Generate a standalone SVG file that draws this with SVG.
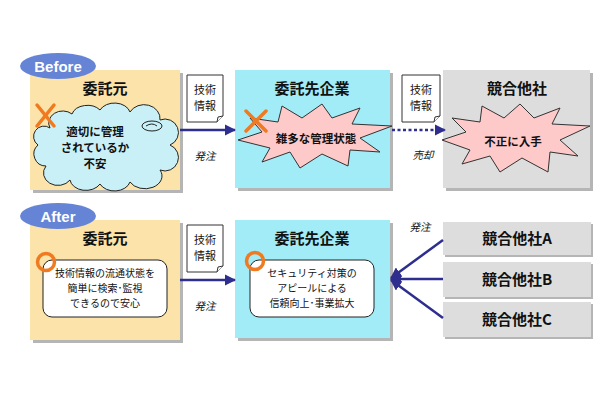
<svg xmlns="http://www.w3.org/2000/svg" width="610" height="400" viewBox="0 0 610 400">
<style>
text{font-family:"Noto Sans CJK JP","Noto Sans",sans-serif;fill:#111;text-anchor:middle}
.title{font-size:15px;font-weight:bold}
.body{font-size:11.5px;font-weight:bold}
.small{font-size:11px}
.note-t{font-size:10px}
.lbl{font-size:10.5px;font-style:italic}
.doc{fill:#fff;stroke:#333;stroke-width:1}
.shadow{fill:#b5b5b5}
.tan{fill:#fbe3a9}
.cyan{fill:#a2ecf8}
.gray{fill:#dddddd}
.pill{fill:#6584d6}
.pilltxt{font-family:"Liberation Sans",sans-serif;font-size:15px;font-weight:bold;fill:#fff}
.burst{fill:#fdc9c9;stroke:#333;stroke-width:1}
.xmark{stroke:#f07a20;stroke-width:3.5;stroke-linecap:round}
.omark{fill:none;stroke:#f07a20;stroke-width:3.5}
.note{fill:#fff;stroke:#222;stroke-width:1}
.conn{stroke:#2e2e8f;stroke-width:2.5;fill:none}
</style>
<defs>
<marker id="ah" viewBox="0 0 10 10" refX="9" refY="5" markerWidth="4.5" markerHeight="4.5" orient="auto" markerUnits="strokeWidth">
<path d="M0,0 L10,5 L0,10 Z" fill="#2e2e8f"/>
</marker>
</defs>
<rect width="610" height="400" fill="#fff"/>

<g id="before-client">
<rect class="shadow" x="33" y="73" width="150" height="120"/>
<rect class="tan" x="30" y="70" width="150" height="120"/>
<text class="title" x="105" y="94">委託元</text>
<path d="M50,128 A14,12 0 0 1 72,114 A16,12 0 0 1 100,110 A16,12 0 0 1 130,112 A16,14 0 0 1 160,120 A12,12 0 0 1 170,145 A12,12 0 0 1 160,170 A16,12 0 0 1 130,182 A16,12 0 0 1 100,184 A16,12 0 0 1 70,180 A14,12 0 0 1 46,166 A12,12 0 0 1 38,145 A10,10 0 0 1 50,128 Z" fill="#c9f0f7" stroke="#222" stroke-width="1"/>
<ellipse cx="152" cy="126" rx="10" ry="5" fill="none" stroke="#222" stroke-width="1"/>
<path d="M146,126 Q152,122 157,126" fill="none" stroke="#222" stroke-width="1"/>
<text class="body" x="95" y="136">適切に管理</text>
<text class="body" x="95" y="152">されているか</text>
<text class="body" x="95" y="168">不安</text>
<line class="xmark" x1="37" y1="105" x2="54" y2="126"/>
<line class="xmark" x1="54" y1="105" x2="37" y2="126"/>
</g>

<g id="before-pill">
<ellipse class="pill" cx="58" cy="66" rx="38" ry="13"/>
<text class="pilltxt" x="58" y="72">Before</text>
</g>

<g id="before-contractor">
<rect class="shadow" x="238" y="73" width="155" height="118"/>
<rect class="cyan" x="235" y="70" width="155" height="118"/>
<text class="title" x="312" y="94">委託先企業</text>
<polygon class="burst" points="238,140 262,132 250,118 278,122 282,106 302,118 322,104 332,118 360,108 352,124 392,126 360,138 380,152 350,150 348,166 322,154 300,168 290,152 262,162 270,148"/>
<text class="body" x="316" y="143">雑多な管理状態</text>
<line class="xmark" x1="246" y1="111" x2="266" y2="131"/>
<line class="xmark" x1="266" y1="111" x2="246" y2="131"/>
</g>

<g id="before-competitor">
<rect class="shadow" x="446" y="73" width="147" height="118"/>
<rect class="gray" x="443" y="70" width="147" height="118"/>
<text class="title" x="517" y="94">競合他社</text>
<polygon class="burst" points="442,140 466,132 452,118 480,122 482,106 504,118 520,104 534,118 560,108 552,124 590,126 560,140 578,156 550,152 548,172 522,158 500,172 490,156 462,164 470,150"/>
<text class="body" x="513" y="146">不正に入手</text>
</g>

<g id="after-client">
<rect class="shadow" x="33" y="223" width="150" height="120"/>
<rect class="tan" x="30" y="220" width="150" height="120"/>
<text class="title" x="105" y="244">委託元</text>
<rect class="note" x="43" y="260" width="124" height="57" rx="9"/>
<text class="note-t" x="105" y="277">技術情報の流通状態を</text>
<text class="note-t" x="105" y="292">簡単に検索･監視</text>
<text class="note-t" x="105" y="307">できるので安心</text>
<circle class="omark" cx="46" cy="262" r="8.5"/>
</g>

<g id="after-pill">
<ellipse class="pill" cx="58" cy="216" rx="38" ry="13"/>
<text class="pilltxt" x="58" y="222">After</text>
</g>

<g id="after-contractor">
<rect class="shadow" x="238" y="223" width="155" height="118"/>
<rect class="cyan" x="235" y="220" width="155" height="118"/>
<text class="title" x="312" y="244">委託先企業</text>
<rect class="note" x="250" y="260" width="124" height="57" rx="9"/>
<text class="note-t" x="312" y="277">セキュリティ対策の</text>
<text class="note-t" x="312" y="292">アピールによる</text>
<text class="note-t" x="312" y="307">信頼向上･事業拡大</text>
<circle class="omark" cx="255" cy="261" r="8.5"/>
</g>

<g id="after-competitor-a">
<rect class="shadow" x="445" y="224" width="148" height="33"/>
<rect class="gray" x="443" y="222" width="148" height="33"/>
<text class="title" x="517" y="244">競合他社A</text>
</g>
<g id="after-competitor-b">
<rect class="shadow" x="445" y="264" width="148" height="35"/>
<rect class="gray" x="443" y="262" width="148" height="35"/>
<text class="title" x="517" y="285">競合他社B</text>
</g>
<g id="after-competitor-c">
<rect class="shadow" x="445" y="304" width="148" height="35"/>
<rect class="gray" x="443" y="302" width="148" height="35"/>
<text class="title" x="517" y="325">競合他社C</text>
</g>

<g id="connectors">
<line class="conn" x1="180" y1="130" x2="235" y2="130" marker-end="url(#ah)"/>
<line class="conn" x1="392" y1="130" x2="445" y2="130" stroke-dasharray="3,2.5" marker-end="url(#ah)"/>
<line class="conn" x1="180" y1="280" x2="235" y2="280" marker-end="url(#ah)"/>
<line class="conn" x1="443" y1="240" x2="391" y2="278" marker-end="url(#ah)"/>
<line class="conn" x1="443" y1="279" x2="391" y2="279" marker-end="url(#ah)"/>
<line class="conn" x1="443" y1="318" x2="391" y2="280" marker-end="url(#ah)"/>
</g>

<g id="doc-labels">
<path class="doc" d="M187,75 H223 V116 L217,122 H187 Z"/>
<path class="doc" d="M217,122 L218,117 L223,116"/>
<text class="small" x="205" y="94">技術</text>
<text class="small" x="205" y="110">情報</text>
<path class="doc" d="M402,75 H440 V116 L434,122 H402 Z"/>
<path class="doc" d="M434,122 L435,117 L440,116"/>
<text class="small" x="421" y="94">技術</text>
<text class="small" x="421" y="110">情報</text>
<path class="doc" d="M187,225 H223 V266 L217,272 H187 Z"/>
<path class="doc" d="M217,272 L218,267 L223,266"/>
<text class="small" x="205" y="244">技術</text>
<text class="small" x="205" y="260">情報</text>
<text class="lbl" x="205" y="160">発注</text>
<text class="lbl" x="423" y="159">売却</text>
<text class="lbl" x="205" y="310">発注</text>
<text class="lbl" x="420" y="231">発注</text>
</g>
</svg>
